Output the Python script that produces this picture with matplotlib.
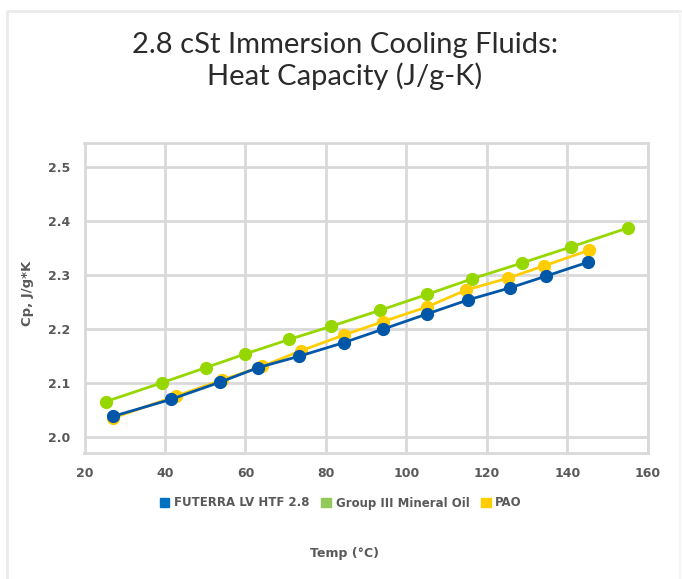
import matplotlib
matplotlib.use('Agg')
from matplotlib import pyplot
from matplotlib.lines import Line2D
from matplotlib.patches import Rectangle

# Temperature (deg C) and heat capacity (J/g-K)
futerra_t = [27.2, 41.4, 53.7, 63.2, 73.4, 84.4, 94.2, 105.1, 115.3, 125.6, 134.7, 145.2]
futerra_cp = [2.039, 2.070, 2.102, 2.129, 2.150, 2.175, 2.200, 2.228, 2.254, 2.276, 2.298, 2.324]

group3_t = [25.3, 39.3, 50.2, 59.9, 70.9, 81.2, 93.5, 105.1, 116.3, 128.6, 140.9, 155.0]
group3_cp = [2.066, 2.101, 2.129, 2.154, 2.181, 2.205, 2.235, 2.264, 2.293, 2.322, 2.352, 2.387]

pao_t = [27.2, 42.7, 54.2, 64.1, 73.8, 84.4, 94.2, 105.1, 114.7, 125.1, 134.2, 145.4]
pao_cp = [2.036, 2.076, 2.106, 2.131, 2.160, 2.189, 2.214, 2.241, 2.272, 2.294, 2.317, 2.346]

x_ticks = [20, 40, 60, 80, 100, 120, 140, 160]
y_ticks = [2.0, 2.1, 2.2, 2.3, 2.4, 2.5]

blue = '#0057a8'
green = '#97d700'
yellow = '#ffcd00'
grey = '#595959'
grid = '#d9d9d9'

fig = pyplot.figure(figsize=(6.82, 5.79), dpi=100)
# faint card border (top, left, right)
fig.add_artist(Line2D([7/682, 7/682, 680/682], [0, 1 - 11/579, 1 - 11/579],
                      transform=fig.transFigure, color='#ebebeb', lw=2))
fig.add_artist(Line2D([680/682, 680/682], [0, 1 - 11/579],
                      transform=fig.transFigure, color='#f4f4f4', lw=1.5))

ax = fig.add_axes([84.5/682, 1 - 453/579, (648 - 84.5)/682, (453 - 143)/579])

ms = 8.5
ax.plot(futerra_t, futerra_cp, '-o', color=blue, lw=2, ms=ms, zorder=5, label='FUTERRA LV HTF 2.8')
ax.plot(group3_t, group3_cp, '-o', color=green, lw=2, ms=ms, zorder=3, label='Group III Mineral Oil')
ax.plot(pao_t, pao_cp, '-o', color=yellow, lw=2, ms=ms, zorder=4, label='PAO')

ax.set_xlim(20, 160)
ax.set_ylim(1.971, 2.544)
ax.set_xticks(x_ticks)
ax.set_yticks(y_ticks)
ax.set_yticklabels(['%.1f' % v for v in y_ticks])
ax.grid(True, color=grid, lw=2)
ax.set_axisbelow(True)
for s in ax.spines.values():
    s.set_color(grid)
    s.set_linewidth(2)
ax.tick_params(axis='both', length=0, pad=10, labelsize=9, labelcolor=grey)
for lab in ax.get_xticklabels() + ax.get_yticklabels():
    lab.set_fontweight('bold')

fig.text(27/682, 1 - 293/579, 'Cp, J/g*K', rotation=90, ha='center', va='center',
         fontsize=9.5, fontweight='bold', color=grey)
fig.text(345/682, 1 - 553/579, 'Temp (°C)', ha='center', va='center',
         fontsize=9, fontweight='bold', color=grey)

fig.text(345/682, 1 - 61/579, '2.8 cSt Immersion Cooling Fluids:\nHeat Capacity (J/g-K)',
         ha='center', va='center', fontsize=21, color='#2b2b2b', linespacing=1.2,
         family=['Lato', 'DejaVu Sans'], fontweight='normal')

handles = [Rectangle((0, 0), 1, 1, color=c) for c in ('#0070c0', '#92c95a', yellow)]
fig.legend(handles, ['FUTERRA LV HTF 2.8', 'Group III Mineral Oil', 'PAO'],
           loc='center', bbox_to_anchor=(341/682, 1 - 503/579), ncol=3, frameon=False,
           handlelength=0.8, handleheight=0.8, handletextpad=0.4, columnspacing=1.0,
           prop={'size': 8.5, 'weight': 'bold'}, labelcolor=grey)

pyplot.savefig('out.png', dpi=100)
